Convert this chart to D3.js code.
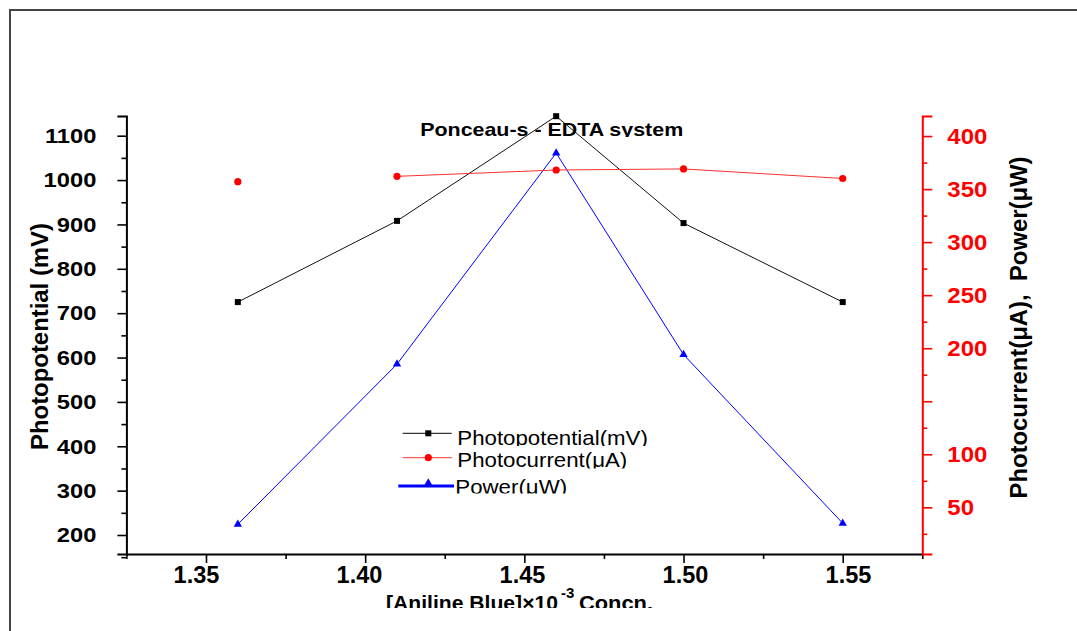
<!DOCTYPE html>
<html><head><meta charset="utf-8">
<script src="https://cdn.jsdelivr.net/npm/d3@7"></script>
<style>
body{margin:0;background:#fff;}
svg{display:block;font-family:"Liberation Sans",Arial,Helvetica,sans-serif;}
</style></head><body>
<svg id="c" width="1077" height="631"></svg>
<script>
// ---- data ----
const concentrations = [1.36, 1.41, 1.46, 1.50, 1.55];
const photopotential = [725, 908, 1144, 903, 725];
const photocurrent   = [357, 362, 368, 369, 360];
const power          = [34, 185, 384, 194, 35];
const xTickValues    = [1.35, 1.40, 1.45, 1.50, 1.55];
const xMinorValues   = [1.325, 1.375, 1.425, 1.475, 1.525, 1.575];
const leftTickValues = [200, 300, 400, 500, 600, 700, 800, 900, 1000, 1100];
const leftMinorValues= [150, 250, 350, 450, 550, 650, 750, 850, 950, 1050];
const rightTickValues= [50, 100, 150, 200, 250, 300, 350, 400];
const rightTickLabels= ["50", "100", "", "200", "250", "300", "350", "400"];
const rightMinorValues=[25, 75, 125, 175, 225, 275, 325, 375];
const titleText = "Ponceau-s - EDTA system";
const legendLabels = ["Photopotential(mV)", "Photocurrent(μA)", "Power(μW)"];
const seriesColors = ["#000000", "#ff0000", "#0000ff"];

// ---- setup ----
const svg = d3.select("#c");
svg.append("rect").attr("width",1077).attr("height",631).attr("fill","#fff");
const defs = svg.append("defs");
function clip(id, y0, y1){
  defs.append("clipPath").attr("id",id).append("rect")
    .attr("x",0).attr("y",y0).attr("width",1077).attr("height",y1-y0);
}
clip("clipTitle", 100, 137);
clip("clipXT", 570, 608);
clip("clipL1", 420, 446);
clip("clipL2", 446, 468.5);
clip("clipL3", 468.5, 493.5);

function stretch(sel, f){
  sel.each(function(){
    const w = this.getComputedTextLength();
    if (w > 0){ this.setAttribute("textLength", w*f); this.setAttribute("lengthAdjust","spacingAndGlyphs"); }
  });
}

// frame
svg.append("path").attr("d","M10,640V10H1090").attr("fill","none")
  .attr("stroke","#444").attr("stroke-width",2);

// scales
const x    = d3.scaleLinear().domain([1.325, 1.575]).range([126.4, 922.3]);
const xLab = d3.scaleLinear().domain([1.35, 1.55]).range([196, 848]);
const yL   = d3.scaleLinear().domain([157.2, 1144.4]).range([554, 116]);
const yR   = d3.scaleLinear().domain([6, 418.9]).range([554, 116]);
const x0 = x.range()[0], x1 = x.range()[1], yBase = yL.range()[0];

// title (under the data)
svg.append("text").attr("clip-path","url(#clipTitle)")
  .attr("x", 551.7).attr("y", 136).attr("text-anchor","middle")
  .attr("font-size", 19).attr("font-weight","bold").attr("fill","#000")
  .attr("textLength", 263).attr("lengthAdjust","spacingAndGlyphs")
  .text(titleText);

// ---- axes ----
function styleAxis(g, color, lw){
  g.attr("font-family", null);
  g.select(".domain").attr("stroke", color).attr("stroke-width", lw);
  g.selectAll(".tick line").attr("stroke", color).attr("stroke-width", 1.6);
}
// bottom
const gx = svg.append("g").attr("transform",`translate(0,${yBase})`)
  .call(d3.axisBottom(x).tickValues(xTickValues).tickSize(9).tickSizeOuter(0).tickFormat(""));
styleAxis(gx, "#000", 2);
const gxm = svg.append("g").attr("transform",`translate(0,${yBase})`)
  .call(d3.axisBottom(x).tickValues(xMinorValues).tickSize(5).tickFormat(""));
gxm.select(".domain").remove(); styleAxis(gxm, "#000", 2);
const gxl = svg.append("g").attr("transform",`translate(0,${yBase})`)
  .call(d3.axisBottom(xLab).tickValues(xTickValues).tickSize(0).tickPadding(12).tickFormat(d3.format(".2f")));
gxl.select(".domain").remove(); gxl.attr("font-family", null);
gxl.selectAll("text").attr("font-size",24).attr("font-weight","bold").attr("fill","#000");
stretch(gxl.selectAll("text"), 0.98);

// left
const gl = svg.append("g").attr("transform",`translate(${x0},0)`)
  .call(d3.axisLeft(yL).tickValues(leftTickValues).tickSize(9).tickSizeOuter(9).tickPadding(21).tickFormat(d3.format("d")));
styleAxis(gl, "#000", 2);
gl.selectAll("text").attr("font-size",21).attr("font-weight","bold").attr("fill","#000");
stretch(gl.selectAll("text"), 1.13);
const glm = svg.append("g").attr("transform",`translate(${x0},0)`)
  .call(d3.axisLeft(yL).tickValues(leftMinorValues).tickSize(5).tickFormat(""));
glm.select(".domain").remove(); styleAxis(glm, "#000", 2);

// right
const gr = svg.append("g").attr("transform",`translate(${x1},0)`)
  .call(d3.axisRight(yR).tickValues(rightTickValues).tickSize(10).tickSizeOuter(10).tickPadding(15)
    .tickFormat((d,i) => rightTickLabels[i]));
styleAxis(gr, "#ff0000", 2);
gr.selectAll("text").attr("font-size",22).attr("font-weight","bold").attr("fill","#ff0000");
stretch(gr.selectAll("text"), 1.09);
const grm = svg.append("g").attr("transform",`translate(${x1},0)`)
  .call(d3.axisRight(yR).tickValues(rightMinorValues).tickSize(5).tickFormat(""));
grm.select(".domain").remove(); styleAxis(grm, "#ff0000", 2);

// axis titles
svg.append("text").attr("transform",`translate(48.3,336.5) rotate(-90)`)
  .attr("text-anchor","middle").attr("font-size",24).attr("font-weight","bold").attr("fill","#000")
  .attr("textLength",227).attr("lengthAdjust","spacingAndGlyphs")
  .text("Photopotential (mV)");
svg.append("text").attr("transform",`translate(1026.7,327.5) rotate(-90)`)
  .attr("text-anchor","middle").attr("font-size",24).attr("font-weight","bold").attr("fill","#000")
  .attr("textLength",342).attr("lengthAdjust","spacingAndGlyphs")
  .style("white-space","pre").text("Photocurrent(μA),  Power(μW)");
const xtg = svg.append("g").attr("clip-path","url(#clipXT)")
  .attr("font-weight","bold").attr("fill","#000");
xtg.append("text").attr("x",386).attr("y",610).attr("font-size",21)
  .attr("textLength",172).attr("lengthAdjust","spacingAndGlyphs").text("[Aniline Blue]×10");
xtg.append("text").attr("x",561).attr("y",598).attr("font-size",15).text("-3");
xtg.append("text").attr("x",579).attr("y",610).attr("font-size",21)
  .attr("textLength",74).attr("lengthAdjust","spacingAndGlyphs").text("Concn.");

// ---- series ----
const idx = d3.range(concentrations.length);
const tri = d3.symbol().type(d3.symbolTriangle).size(30);

// power (blue)
svg.append("path").datum(idx).attr("fill","none").attr("stroke",seriesColors[2]).attr("stroke-width",1)
  .attr("d", d3.line().x(i=>x(concentrations[i])).y(i=>yR(power[i])));
svg.append("g").selectAll("path").data(idx).join("path")
  .attr("transform", i=>`translate(${x(concentrations[i])},${yR(power[i])})`)
  .attr("d", tri).attr("fill", seriesColors[2]);

// photopotential (black)
svg.append("path").datum(idx).attr("fill","none").attr("stroke","#111").attr("stroke-width",1)
  .attr("d", d3.line().x(i=>x(concentrations[i])).y(i=>yL(photopotential[i])));
svg.append("g").selectAll("rect").data(idx).join("rect")
  .attr("x", i=>x(concentrations[i])-3).attr("y", i=>yL(photopotential[i])-3)
  .attr("width",6).attr("height",6).attr("fill",seriesColors[0]);

// photocurrent (red) - first point not joined in the original
svg.append("path").datum(idx).attr("fill","none").attr("stroke","#ff3030").attr("stroke-width",1)
  .attr("d", d3.line().defined(i=>i>0).x(i=>x(concentrations[i])).y(i=>yR(photocurrent[i])));
svg.append("g").selectAll("circle").data(idx).join("circle")
  .attr("cx", i=>x(concentrations[i])).attr("cy", i=>yR(photocurrent[i]))
  .attr("r",3.6).attr("fill",seriesColors[1]);

// ---- legend ----
const lg = svg.append("g");
const legendRows = [
  {y:433.3, ty:445, clip:"clipL1", x0:402.7, x1:451.7, w:1, tx:457.3},
  {y:457.7, ty:466.5, clip:"clipL2", x0:402.7, x1:451.7, w:1, tx:457.3},
  {y:486,   ty:493.5, clip:"clipL3", x0:398.3, x1:454,   w:3, tx:455.3}
];
legendRows.forEach((r,k)=>{
  lg.append("line").attr("x1",r.x0).attr("x2",r.x1).attr("y1",r.y).attr("y2",r.y)
    .attr("stroke", k===1 ? "#ff3030" : seriesColors[k]).attr("stroke-width",r.w);
  const mx = 428.3;
  if (k===0) lg.append("rect").attr("x",mx-3).attr("y",r.y-3).attr("width",6).attr("height",6).attr("fill",seriesColors[0]);
  if (k===1) lg.append("circle").attr("cx",mx).attr("cy",r.y).attr("r",3.6).attr("fill",seriesColors[1]);
  if (k===2) lg.append("path").attr("transform",`translate(${mx},${r.y-3})`).attr("d",tri).attr("fill",seriesColors[2]);
  const t = lg.append("text").attr("clip-path",`url(#${r.clip})`).attr("x",r.tx).attr("y",r.ty)
    .attr("font-size",21).attr("fill","#000").text(legendLabels[k]);
  stretch(t, 1.06);
});
</script>
</body></html>
